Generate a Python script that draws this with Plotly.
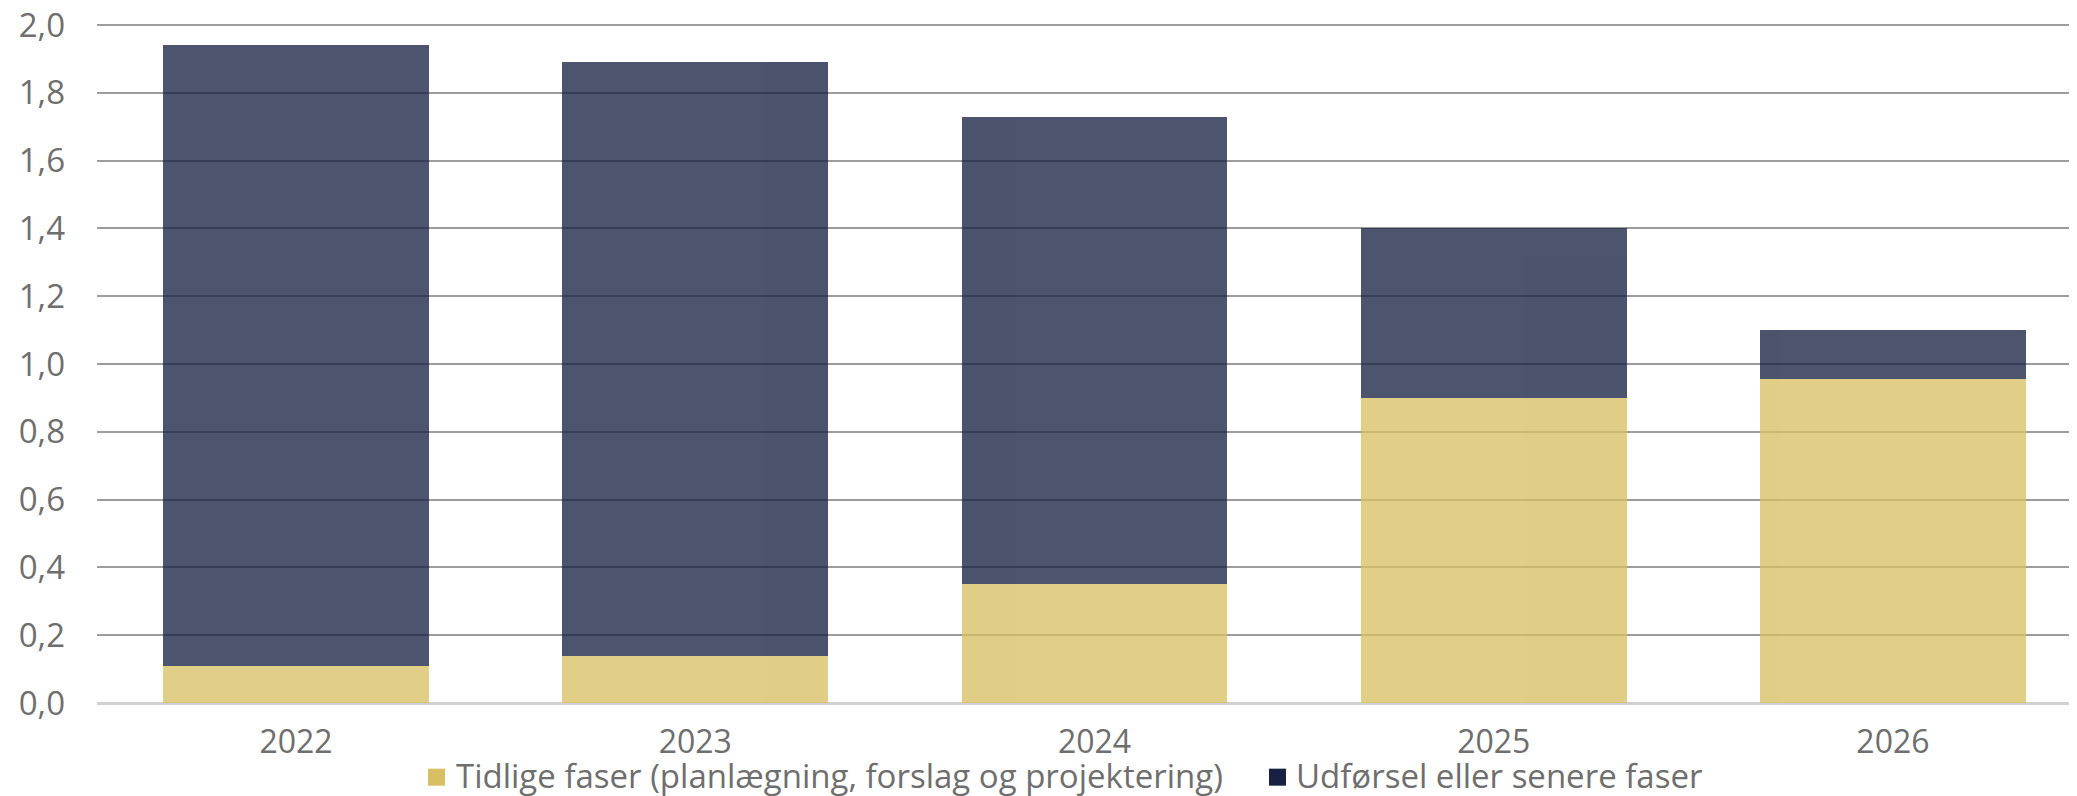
import plotly.graph_objects as go

years = ["2022", "2023", "2024", "2025", "2026"]
early_phases = [0.11, 0.14, 0.35, 0.90, 0.955]
later_phases = [1.83, 1.75, 1.38, 0.50, 0.145]
y_ticks = [0.0, 0.2, 0.4, 0.6, 0.8, 1.0, 1.2, 1.4, 1.6, 1.8, 2.0]
series_names = ["Tidlige faser (planlægning, forslag og projektering)", "Udførsel eller senere faser"]
series_colors = ["#d8bf63", "#172142"]

# page body has an 8px default margin; compensate so the picture lines up
OFF = 8
W, H = 2077 - OFF, 796 - OFF
L = 97 - OFF
T = 24 - OFF
BOTTOM_PX = 703.3 - OFF
B = H - BOTTOM_PX
R = 0
pw = W - L - R
ph = H - T - B

def px_x(p):
    return (p - OFF - L) / pw

def px_y(p):
    return (BOTTOM_PX - (p - OFF)) / ph

FONT = "Open Sans"
FS = 33
GREY = "#6e6e6e"

fig = go.Figure()
for name, vals, col in zip(series_names, [early_phases, later_phases], series_colors):
    fig.add_trace(go.Bar(
        x=years, y=vals, name=name,
        marker=dict(color=col, line=dict(width=0)),
        opacity=0.77, showlegend=False,
    ))

# manual legend (squares + text), positions in reference pixels
legend_items = [(428, 455), (1269, 1295)]
for (sq_x, tx_x), name, col in zip(legend_items, series_names, series_colors):
    fig.add_shape(type="rect", xref="paper", yref="paper",
                  x0=px_x(sq_x), x1=px_x(sq_x + 17),
                  y0=px_y(786), y1=px_y(769),
                  fillcolor=col, line=dict(width=0))
    fig.add_annotation(xref="paper", yref="paper", x=px_x(tx_x), y=px_y(776),
                       text=name, showarrow=False, xanchor="left", yanchor="middle",
                       borderpad=0,
                       font=dict(family=FONT, size=FS, color=GREY))

fig.update_layout(
    width=W, height=H,
    margin=dict(l=L, r=R, t=T, b=B, pad=0),
    barmode="stack",
    bargap=0.334,
    plot_bgcolor="white",
    paper_bgcolor="white",
    separators=",.",
    font=dict(family=FONT, size=FS, color=GREY),
    xaxis=dict(
        type="category",
        range=[-0.4985, 4.461],
        showgrid=False, showline=False, zeroline=False,
        ticks="", ticklabelstandoff=17, automargin=False,
        tickfont=dict(family=FONT, size=32, color=GREY),
    ),
    yaxis=dict(
        range=[0, 2.003],
        tickvals=y_ticks,
        tickformat=".1f",
        showgrid=True, gridcolor="#9c9c9c", gridwidth=2,
        zeroline=True, zerolinecolor="#d0d0d0", zerolinewidth=3,
        showline=False, ticks="", automargin=False,
        ticklabelstandoff=31, ticklabeloverflow="allow",
        tickfont=dict(family=FONT, size=FS, color=GREY),
    ),
)

fig.write_html("out.html")
